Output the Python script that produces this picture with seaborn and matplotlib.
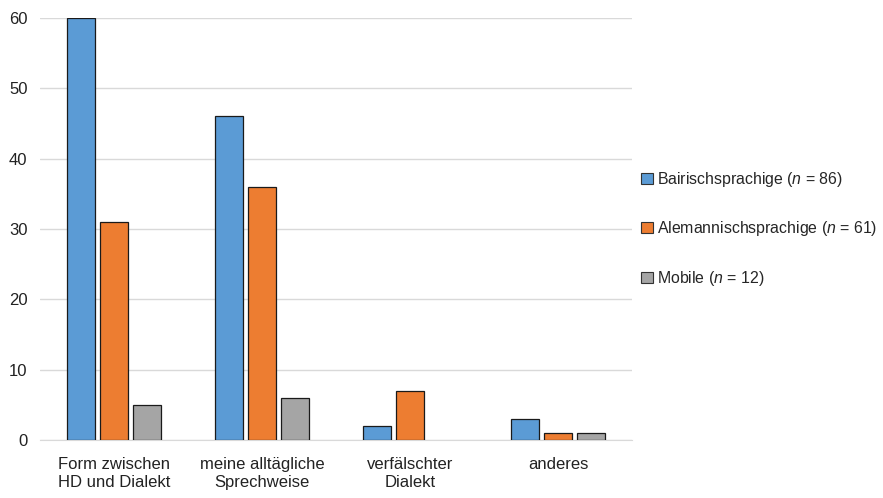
import pandas as pd
import seaborn as sns
import matplotlib.pyplot as plt

# Daten aus der Abbildung
categories = ['Form zwischen\nHD und Dialekt', 'meine alltägliche\nSprechweise',
              'verfälschter\nDialekt', 'anderes']
groups = ['Bairischsprachige ($\\it{n}$ = 86)', 'Alemannischsprachige ($\\it{n}$ = 61)',
          'Mobile ($\\it{n}$ = 12)']
bairisch = [60, 46, 2, 3]
alemannisch = [31, 36, 7, 1]
mobile = [5, 6, 0, 1]

df = pd.DataFrame({
    'kategorie': categories * 3,
    'gruppe': [groups[0]] * 4 + [groups[1]] * 4 + [groups[2]] * 4,
    'wert': bairisch + alemannisch + mobile,
})

sns.set_style('white')
plt.rcParams['font.family'] = ['Liberation Sans', 'DejaVu Sans']
plt.rcParams['mathtext.fontset'] = 'custom'
plt.rcParams['mathtext.it'] = 'Liberation Sans:italic'
plt.rcParams['mathtext.rm'] = 'Liberation Sans'

fig = plt.figure(figsize=(8.83, 4.98), dpi=100)
ax = fig.add_axes([0.0453, 0.1165, 0.6704, 0.8474])

palette = ['#5B9BD5', '#ED7D31', '#A5A5A5']
sns.barplot(data=df, x='kategorie', y='wert', hue='gruppe', palette=palette,
            width=0.66, gap=0.14, edgecolor='#1a1a1a', linewidth=0.9,
            saturation=1, ax=ax, zorder=3)

# Balken mit Wert 0 nicht zeichnen
for p in ax.patches:
    if p.get_height() == 0:
        p.set_linewidth(0)

ax.set_ylim(0, 60)
ax.set_yticks(range(0, 61, 10))
ax.set_xlabel('')
ax.set_ylabel('')
ax.grid(axis='y', color='#D9D9D9', linewidth=1, zorder=0)
for s in ['top', 'right', 'left']:
    ax.spines[s].set_visible(False)
ax.spines['bottom'].set_color('#D9D9D9')
ax.tick_params(axis='both', length=0, labelsize=12, colors='#222222')
ax.tick_params(axis='x', pad=12)
ax.tick_params(axis='y', pad=9)
for t in ax.get_xticklabels():
    t.set_linespacing(1.3)

leg = ax.legend(loc='center left', bbox_to_anchor=(1.0, 0.5), frameon=False,
                fontsize=11.4, labelspacing=1.95, handlelength=0.7, handleheight=0.7,
                handletextpad=0.25, borderaxespad=0.2)
for h in leg.legend_handles:
    h.set_edgecolor('#333333')
    h.set_linewidth(0.8)

plt.savefig('out.png', dpi=100)
